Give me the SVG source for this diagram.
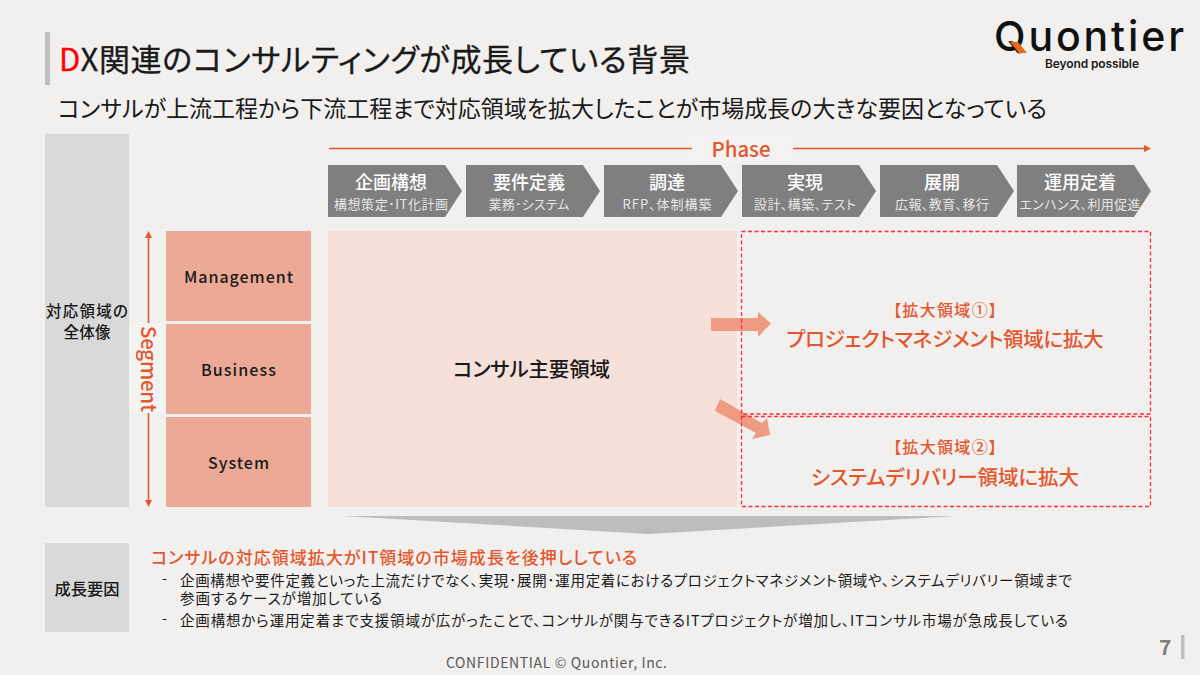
<svg xmlns="http://www.w3.org/2000/svg" width="1200" height="675" viewBox="0 0 1200 675">
<style>
text{font-family:"Noto Sans CJK JP","Noto Sans",sans-serif;fill:#1a1a1a;font-feature-settings:"palt"}
.c{text-anchor:middle}
.o{fill:#E4572E}
.w{fill:#fff}
.ws{fill:#e6e6e6;font-size:13px}
.chev{fill:#7F7F7F}
.seg{fill:#ECA996}
.gr{fill:#D9D9D9}
.dash{fill:none;stroke:#FF2A3A;stroke-width:1.3;stroke-dasharray:4 2.500}
.ln{fill:none;stroke:#E4572E;stroke-width:1.6}
.ah{fill:#E4572E}
.big{fill:#EE9B82}
.b{font-size:14.500px}
.lat{font-size:16px;font-weight:500}
.lg{font-family:Inter,"Noto Sans",sans-serif}
</style>
<rect width="1200" height="675" fill="#F1F0EE"/>
<g id="header">
<rect x="45" y="32" width="5" height="53" fill="#BFBFBF"/>
<text x="59" y="71" font-size="31" textLength="631" lengthAdjust="spacing" stroke="#1a1a1a" stroke-width=".3"><tspan fill="#FF0000" stroke="#FF0000">D</tspan>X関連のコンサルティングが成長している背景</text>
<text x="58" y="117" font-size="23" textLength="989" lengthAdjust="spacing">コンサルが上流工程から下流工程まで対応領域を拡大したことが市場成長の大きな要因となっている</text>
</g>
<g id="logo">
<text class="lg" x="994" y="51" font-size="41" font-weight="500" style="fill:#111" textLength="190" lengthAdjust="spacing">Quontier</text>
<polygon points="1010,42 1018,42 1027,53 1019,53" fill="#E8691C"/>
<text class="lg" x="1045" y="68" font-size="12" font-weight="600" textLength="94" lengthAdjust="spacing">Beyond possible</text>
</g>
<g id="left-label"><rect class="gr" x="45" y="134" width="84" height="373"/>
<text class="c" x="87" y="317" font-size="15.500" font-weight="500" textLength="82" lengthAdjust="spacing">対応領域の</text><text class="c" x="87" y="338" font-size="15.500" font-weight="500" textLength="47" lengthAdjust="spacing">全体像</text></g>
<g id="step1"><polygon class="chev" points="328,165 445,165 462,191 445,217 328,217"/><text class="c w" x="391" y="189" font-size="18" font-weight="500">企画構想</text><text class="c ws" x="391" y="209" textLength="114" lengthAdjust="spacing">構想策定･IT化計画</text></g>
<g id="step2"><polygon class="chev" points="466,165 583,165 600,191 583,217 466,217"/><text class="c w" x="529" y="189" font-size="18" font-weight="500">要件定義</text><text class="c ws" x="529" y="209" textLength="81" lengthAdjust="spacing">業務･システム</text></g>
<g id="step3"><polygon class="chev" points="604,165 721,165 738,191 721,217 604,217"/><text class="c w" x="667" y="189" font-size="18" font-weight="500">調達</text><text class="c ws" x="667" y="209" textLength="89" lengthAdjust="spacing">RFP、体制構築</text></g>
<g id="step4"><polygon class="chev" points="742,165 859,165 876,191 859,217 742,217"/><text class="c w" x="805" y="189" font-size="18" font-weight="500">実現</text><text class="c ws" x="805" y="209" textLength="102" lengthAdjust="spacing">設計、構築、テスト</text></g>
<g id="step5"><polygon class="chev" points="880,165 997,165 1014,191 997,217 880,217"/><text class="c w" x="942" y="189" font-size="18" font-weight="500">展開</text><text class="c ws" x="942" y="209" textLength="94" lengthAdjust="spacing">広報、教育、移行</text></g>
<g id="step6"><polygon class="chev" points="1017,165 1134,165 1151,191 1134,217 1017,217"/><text class="c w" x="1080" y="189" font-size="18" font-weight="500">運用定着</text><text class="c ws" x="1080" y="209" textLength="121" lengthAdjust="spacing">エンハンス、利用促進</text></g>
<g id="management"><rect class="seg" x="166" y="231" width="145" height="90"/><text class="c lat" x="238.500" y="283" textLength="109" lengthAdjust="spacing">Management</text></g>
<g id="business"><rect class="seg" x="166" y="324" width="145" height="90"/><text class="c lat" x="238.500" y="376" textLength="75" lengthAdjust="spacing">Business</text></g>
<g id="system"><rect class="seg" x="166" y="417" width="145" height="90"/><text class="c lat" x="238.500" y="469" textLength="61" lengthAdjust="spacing">System</text></g>
<g id="main-area"><rect x="328" y="231" width="409" height="276" fill="#F6E0DA"/><text class="c" x="531.500" y="377" font-size="20.500" font-weight="500" textLength="157" lengthAdjust="spacing">コンサル主要領域</text></g>
<g id="connectors">
<rect x="690" y="135" width="102" height="28" fill="#F3F2F0"/>
<rect x="129" y="323" width="37" height="90" fill="#F3F3F1"/>
<path class="ln" d="M329 148.500H692M793 148.500H1145"/>
<polygon class="ah" points="1144,145 1151,148.500 1144,152"/>
<path class="ln" d="M148.500 236V323M148.500 413V502"/>
<polygon class="ah" points="148.500,231 145,238 152,238"/>
<polygon class="ah" points="148.500,507 145,500 152,500"/>
<polygon class="big" points="711,318 758,318 758,312 771,323.500 758,337 758,331 711,331"/>
<polygon class="big" points="720,399 762,423 767,418 770,435 752,439 756,433 715,411"/>
<polygon points="343,516 957,516 648,534" fill="#BDBDBD"/>
</g>
<text class="o c" x="741" y="157" font-size="20.500" font-weight="500" textLength="59" lengthAdjust="spacing" id="phase">Phase</text>
<text class="o c" transform="translate(141,369) rotate(90)" font-size="20.500" font-weight="500" textLength="86" lengthAdjust="spacing" id="segment">Segment</text>
<g id="expand1"><rect class="dash" x="741.500" y="231.500" width="409" height="182.500"/><text class="c o" x="945" y="316" font-size="16" font-weight="500" textLength="104" lengthAdjust="spacing">【拡大領域①】</text><text class="c o" x="945" y="347" font-size="20.500" font-weight="500" textLength="317" lengthAdjust="spacing">プロジェクトマネジメント領域に拡大</text></g>
<g id="expand2"><rect class="dash" x="741.500" y="416.500" width="409" height="90"/><text class="c o" x="945" y="453" font-size="16" font-weight="500" textLength="104" lengthAdjust="spacing">【拡大領域②】</text><text class="c o" x="945" y="485" font-size="20.500" font-weight="500" textLength="268" lengthAdjust="spacing">システムデリバリー領域に拡大</text></g>
<g id="factor"><rect class="gr" x="45" y="543" width="84" height="89"/><text class="c" x="87" y="595" font-size="16.300" font-weight="500">成長要因</text></g>
<g id="factor-text">
<text class="o" x="151" y="564" font-size="17" font-weight="500" textLength="486" lengthAdjust="spacing">コンサルの対応領域拡大がIT領域の市場成長を後押ししている</text>
<text class="b" x="162" y="584">-</text>
<text class="b" x="180" y="586" textLength="892" lengthAdjust="spacing">企画構想や要件定義といった上流だけでなく、実現･展開･運用定着におけるプロジェクトマネジメント領域や、システムデリバリー領域まで</text>
<text class="b" x="180" y="604" textLength="202" lengthAdjust="spacing">参画するケースが増加している</text>
<text class="b" x="162" y="624">-</text>
<text class="b" x="180" y="626" textLength="888" lengthAdjust="spacing">企画構想から運用定着まで支援領域が広がったことで、コンサルが関与できるITプロジェクトが増加し、ITコンサル市場が急成長している</text>
</g>
<g id="footer">
<text x="446" y="668" font-size="14" style="fill:#595959" textLength="221" lengthAdjust="spacing">CONFIDENTIAL © Quontier, Inc.</text>
<text x="1159" y="655" font-size="21" font-weight="700" style="fill:#7F7F7F">7</text>
<rect x="1181" y="635" width="3.500" height="24" fill="#BFBFBF"/>
</g>
</svg>
